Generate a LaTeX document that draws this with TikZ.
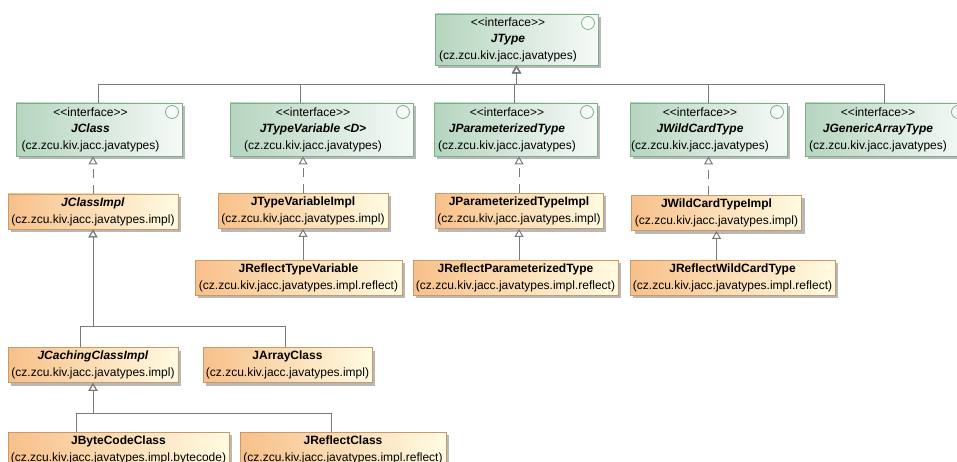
\documentclass[tikz,border=0pt]{standalone}
\usepackage{fontspec}
\newfontfamily\umlfont{Liberation Sans}
\usetikzlibrary{arrows.meta,shadows}

\definecolor{ifaceleft}{HTML}{B5D5BF}
\definecolor{ifaceright}{HTML}{F6FAF7}
\definecolor{ifaceline}{HTML}{7DAF8A}
\definecolor{implleft}{HTML}{F8C08A}
\definecolor{implright}{HTML}{FFFBE2}
\definecolor{implline}{HTML}{C89A6A}
\definecolor{edgegray}{HTML}{7A7A7A}

% text of an interface box, kept left of the circle
\newcommand{\ifacetext}[1]{\begin{tabular}{@{}c@{\hspace{17pt}}}<{}<interface>{}>\\\textbf{\textit{#1}}\\(cz.zcu.kiv.jacc.javatypes)\end{tabular}}

\tikzset{
  iface/.style={draw=ifaceline, line width=0.8pt, left color=ifaceleft, right color=ifaceright,
    minimum height=53pt, inner sep=0pt, font=\umlfont\fontsize{12}{16.5}\selectfont,
    drop shadow={shadow xshift=3pt, shadow yshift=-3pt, fill=black!28, opacity=1},
    path picture={\draw[ifaceline, fill=ifaceright, line width=0.8pt]
      ([xshift=-10pt,yshift=-9pt]path picture bounding box.north east) circle (6.5pt);}},
  implbox/.style={draw=implline, line width=0.8pt, left color=implleft, right color=implright,
    minimum height=35pt, inner sep=0pt, align=center, font=\umlfont\fontsize{12}{17}\selectfont,
    drop shadow={shadow xshift=3pt, shadow yshift=-3pt, fill=black!28, opacity=1}},
  genline/.style={draw=edgegray, line width=1pt, -{Triangle[open, length=8pt, width=9pt]}},
  realline/.style={genline, dash pattern=on 9pt off 7pt},
}

\begin{document}
\begin{tikzpicture}[x=1pt, y=-1pt]
    \useasboundingbox (0,0) rectangle (957,462);
    \clip (0,0) rectangle (957,462);
    \fill[white] (0,0) rectangle (957,462);

    % interfaces
    \path (516.5,39.5) node[iface, minimum width=163pt, minimum height=51pt] (jtype)      {\ifacetext{JType}};
    \path (99,129.5)   node[iface, minimum width=166pt] (jclass)     {\ifacetext{JClass}};
    \path (321.5,129.5) node[iface, minimum width=183pt] (jtypevar)  {\ifacetext{JTypeVariable <D>}};
    \path (515.5,129.5) node[iface, minimum width=163pt] (jparamtype) {\ifacetext{JParameterizedType}};
    \path (708.5,129.5) node[iface, minimum width=157pt] (jwildtype)  {\ifacetext{JWildCardType}};
    \path (886.5,129.5) node[iface, minimum width=163pt] (jgenarray)  {\ifacetext{JGenericArrayType}};

    % implementations
    \path (93,211.5)  node[implbox, minimum width=170pt] (jclassimpl)     {\textbf{\textit{JClassImpl}}\\(cz.zcu.kiv.jacc.javatypes.impl)};
    \path (303,211)   node[implbox, minimum width=170pt] (jtypevarimpl)   {\textbf{JTypeVariableImpl}\\(cz.zcu.kiv.jacc.javatypes.impl)};
    \path (519,211)   node[implbox, minimum width=168pt] (jparamtypeimpl) {\textbf{JParameterizedTypeImpl}\\(cz.zcu.kiv.jacc.javatypes.impl)};
    \path (716.5,213) node[implbox, minimum width=170pt] (jwildtypeimpl)  {\textbf{JWildCardTypeImpl}\\(cz.zcu.kiv.jacc.javatypes.impl)};

    \path (298.5,277.5) node[implbox, minimum width=207pt] (jreflecttypevar)   {\textbf{JReflectTypeVariable}\\(cz.zcu.kiv.jacc.javatypes.impl.reflect)};
    \path (515.5,277.5) node[implbox, minimum width=205pt] (jreflectparamtype) {\textbf{JReflectParameterizedType}\\(cz.zcu.kiv.jacc.javatypes.impl.reflect)};
    \path (732.5,277.5) node[implbox, minimum width=205pt] (jreflectwildtype)  {\textbf{JReflectWildCardType}\\(cz.zcu.kiv.jacc.javatypes.impl.reflect)};

    \path (93,365)    node[implbox, minimum width=170pt] (jcachingclassimpl) {\textbf{\textit{JCachingClassImpl}}\\(cz.zcu.kiv.jacc.javatypes.impl)};
    \path (287.5,365) node[implbox, minimum width=169pt] (jarrayclass)       {\textbf{JArrayClass}\\(cz.zcu.kiv.jacc.javatypes.impl)};

    \path (118.5,449.5) node[implbox, minimum width=221pt] (jbytecodeclass) {\textbf{JByteCodeClass}\\(cz.zcu.kiv.jacc.javatypes.impl.bytecode)};
    \path (343,449.5)   node[implbox, minimum width=206pt] (jreflectclass)  {\textbf{JReflectClass}\\(cz.zcu.kiv.jacc.javatypes.impl.reflect)};

    % bus points
    \coordinate (bus1) at (516.5,85);
    \coordinate (bus2) at (93,326);
    \coordinate (bus3) at (93,413);

    \draw[genline] ([xshift=-1pt]jclass.north)      |- (bus1) -- (jtype.south);
    \draw[genline] ([xshift=-21.5pt]jtypevar.north) |- (bus1) -- (jtype.south);
    \draw[genline] ([xshift=-1.5pt]jparamtype.north) |- (bus1) -- (jtype.south);
    \draw[genline] (jwildtype.north)                 |- (bus1) -- (jtype.south);
    \draw[genline] ([xshift=-2.5pt]jgenarray.north)  |- (bus1) -- (jtype.south);

    \draw[realline] (jclassimpl.north)     -- (jclassimpl.north |- jclass.south);
    \draw[realline] (jtypevarimpl.north)   -- (jtypevarimpl.north |- jtypevar.south);
    \draw[realline] (jparamtypeimpl.north) -- (jparamtypeimpl.north |- jparamtype.south);
    \draw[realline] (jwildtypeimpl.north -| jwildtype.south) -- (jwildtype.south);

    \draw[genline] (jreflecttypevar.north -| jtypevarimpl.south)     -- (jtypevarimpl.south);
    \draw[genline] (jreflectparamtype.north -| jparamtypeimpl.south) -- (jparamtypeimpl.south);
    \draw[genline] (jreflectwildtype.north -| jwildtypeimpl.south)   -- (jwildtypeimpl.south);

    \draw[genline] ([xshift=-13pt]jcachingclassimpl.north) |- (bus2) -- (jclassimpl.south);
    \draw[genline] ([xshift=-2.5pt]jarrayclass.north)      |- (bus2) -- (jclassimpl.south);

    \draw[genline] ([xshift=-42.5pt]jbytecodeclass.north) |- (bus3) -- (jcachingclassimpl.south);
    \draw[genline] ([xshift=-12pt]jreflectclass.north)    |- (bus3) -- (jcachingclassimpl.south);
\end{tikzpicture}
\end{document}
